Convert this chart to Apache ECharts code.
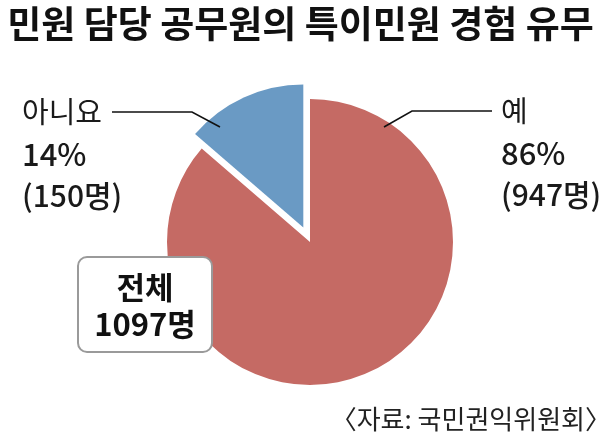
<!DOCTYPE html>
<html><head><meta charset="utf-8">
<script src="https://cdn.jsdelivr.net/npm/echarts@6/dist/echarts.min.js"></script>
<style>html,body{margin:0;padding:0;background:#fff}#c{width:601px;height:441px}</style>
</head><body><div id="c"></div>
<script>
const categories = ['예', '아니요'];
const counts = [947, 150];
const colors = ['#c56a64', '#6a9ac4'];
const titleText = '민원 담당 공무원의 특이민원 경험 유무';
const sourceText = '〈자료: 국민권익위원회〉';
const totalLabel = '전체';

const total = counts.reduce((a, b) => a + b, 0);
const FONT = '"Noto Sans CJK KR",sans-serif';
const chart = echarts.init(document.getElementById('c'), null, {renderer: 'canvas'});

// label anchor placement (annotation layout, not data)
const labelPos = [
  {x: 501, y: 111, line: [[384, 127], [412, 111], [492, 111]]},
  {x: 22, y: 112, line: [[220, 127], [192, 112], [112, 112]]}
];

const labelGraphics = [];
categories.forEach((name, i) => {
  const lp = labelPos[i];
  const pct = Math.round(counts[i] / total * 100);
  const lines = [name, pct + '%', '(' + counts[i] + '명)'];
  const sizes = [29, 31, 30];
  const weights = ['normal', 500, 500];
  lines.forEach((t, k) => {
    labelGraphics.push({
      type: 'text', x: lp.x, y: lp.y + k * 42, z: 20,
      style: {text: t, font: weights[k] + ' ' + sizes[k] + 'px ' + FONT, fill: '#1a1a1a', align: 'left', verticalAlign: 'middle'}
    });
  });
  labelGraphics.push({
    type: 'polyline', z: 20,
    shape: {points: lp.line},
    style: {stroke: '#111', lineWidth: 1.6, fill: null}
  });
});

chart.setOption({
  animation: false,
  title: {
    text: titleText, left: 'center', top: 0,
    textStyle: {fontFamily: FONT, fontWeight: 'bold', fontSize: 37, color: '#111'}
  },
  graphic: [
    {
      type: 'rect', shape: {x: 78, y: 257, width: 134, height: 95, r: 9},
      style: {fill: '#fff', stroke: '#9a9a9a', lineWidth: 2}, z: 10
    },
    {
      type: 'text', x: 145, y: 306, z: 11,
      style: {
        text: totalLabel + '\n' + total + '명', align: 'center', verticalAlign: 'middle',
        font: 'bold 31px ' + FONT, lineHeight: 37, fill: '#111'
      }
    },
    {
      type: 'text', x: 611, y: 419,
      style: {text: sourceText, font: '26px ' + FONT, fill: '#222', align: 'right', verticalAlign: 'middle'}
    }
  ].concat(labelGraphics),
  series: [{
    type: 'pie',
    center: [310, 242],
    radius: 143,
    startAngle: 90,
    clockwise: true,
    selectedMode: 'single',
    selectedOffset: 16,
    emphasis: {disabled: true},
    label: {show: false},
    labelLine: {show: false},
    data: categories.map((c, i) => ({
      name: c, value: counts[i], selected: i === 1,
      itemStyle: {color: colors[i]}
    }))
  }]
});
</script></body></html>
